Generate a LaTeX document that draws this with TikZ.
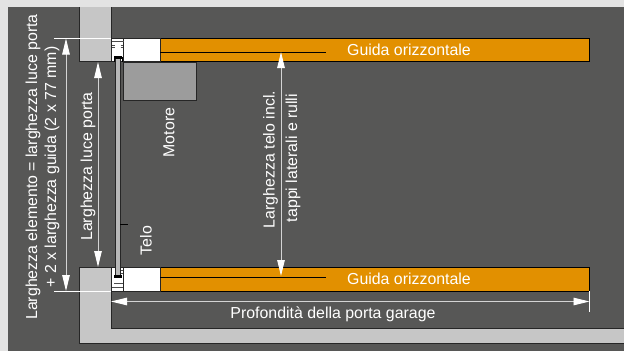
\documentclass[tikz,border=0pt]{standalone}
\usepackage{fontspec}
\setmainfont{Liberation Sans}
\usetikzlibrary{arrows.meta}
\definecolor{sfondo}{HTML}{E3E3E3}
\definecolor{scuro}{HTML}{575756}
\definecolor{muro}{HTML}{C6C6C6}
\definecolor{guida}{HTML}{E29000}
\definecolor{motore}{HTML}{9C9C9C}
\definecolor{quota}{HTML}{D4D4D4}
\tikzset{
	misura/.style={quota,line width=0.9pt,{Triangle[length=16pt,width=7.5pt,color=white]}-{Triangle[length=16pt,width=7.5pt,color=white]}},
	linea/.style={white,line width=0.9pt},
	testo/.style={white,font=\fontsize{15.9}{19}\selectfont,inner sep=0pt},
	bordo/.style={draw=black!85,line width=0.9pt},
	tacca/.style={black!70,line width=0.7pt}
}
\begin{document}
\begin{tikzpicture}[x=1pt,y=-1pt]
	\useasboundingbox (0,0) rectangle (624,351);
	\fill[sfondo] (0,0) rectangle (624,351);
	\fill[scuro] (8,7) rectangle (624,351);
	% muri
	\draw[bordo,fill=muro] (79,7) -- (79,61.5) -- (111,61.5) -- (111,7);
	\draw[bordo,fill=muro] (624,343) -- (79,343) -- (79,267.5) -- (111,267.5) -- (111,328) -- (624,328);
	% guide
	\foreach \nome/\su/\giu/\riga in {alto/38.5/61.5/52,basso/267.5/291/277}{
		\draw[bordo,fill=guida,draw=black] (160,\su) rectangle (589.5,\giu);
		\draw[bordo,fill=white] (111.5,\su) rectangle (160,\giu);
		\draw[bordo] (123.5,\su) -- (123.5,\giu);
		\draw[black,line width=0.8pt] (160,\riga) -- (326,\riga);
		\node[testo] (guida\nome) at (409,\su/2+\giu/2) {Guida orizzontale};
	}
	% testata e telo
	\draw[tacca] (111.5,41) -- (123.5,41);
	\foreach \y in {45,47}{
		\draw[tacca] (112,\y) -- (114.5,\y) (120.5,\y) -- (123,\y);
	}
	\draw[tacca] (114,283) -- (123,283) (112,287) -- (123,287);
	\foreach \y in {270,273}{
		\draw[tacca] (120.5,\y) -- (123,\y);
	}
	\draw[black,line width=0.8pt] (114,56.5) -- (114,61.5) (122,56.5) -- (122,61.5);
	\draw[bordo,fill=motore] (123.5,62) rectangle (196,100.5);
	\draw[bordo,fill=muro!80!gray] (115.8,58) rectangle (120.4,276);
	\fill[black] (114,56) rectangle (122,59);
	\fill[black] (114,275) rectangle (122,278);
	\draw[black,line width=0.8pt] (120.4,224) -- (128,224);
	% quote
	\coordinate (aA) at (54,38.5);
	\coordinate (aB) at (111,38.5);
	\coordinate (bA) at (54,291);
	\coordinate (bB) at (111,291);
	\coordinate (cA) at (66,38.5);
	\coordinate (cB) at (66,291);
	\coordinate (dA) at (98,62);
	\coordinate (dB) at (98,267);
	\coordinate (eA) at (281,52);
	\coordinate (eB) at (281,276);
	\coordinate (fA) at (111,301.5);
	\coordinate (fB) at (589.5,301.5);
	\coordinate (gA) at (589.5,291);
	\coordinate (gB) at (589.5,312);
	\draw[linea] (aA) -- (aB);
	\draw[linea] (bA) -- (bB);
	\draw[linea] (gA) -- (gB);
	\draw[misura] (cA) -- (cB);
	\draw[misura] (dA) -- (dB);
	\draw[misura] (eA) -- (eB);
	\draw[misura] (fA) -- (fB);
	% testi
	\node[testo,rotate=90] (largh) at (33,167) {Larghezza elemento = larghezza luce porta};
	\node[testo,rotate=90] (guid) at (52,167) {+ 2 x larghezza guida (2 x 77 mm)};
	\node[testo,rotate=90] (luce) at (88,166.5) {Larghezza luce porta};
	\node[testo,rotate=90] (mot) at (169,132.5) {Motore};
	\node[testo,rotate=90] (telo) at (146,240.5) {Telo};
	\node[testo,rotate=90] (incl) at (270.5,159.5) {Larghezza telo incl.};
	\node[testo,rotate=90] (tappi) at (293,158) {tappi laterali e rulli};
	\node[testo] (prof) at (333,314) {Profondità della porta garage};
\end{tikzpicture}
\end{document}
